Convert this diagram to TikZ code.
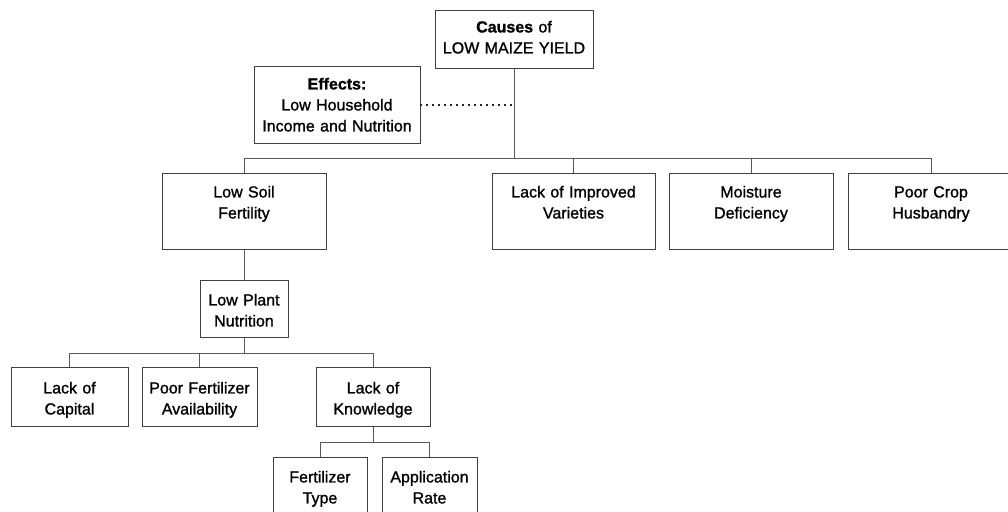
\documentclass[tikz,border=0pt]{standalone}
\usepackage{fontspec}
\setmainfont{Liberation Sans}[FakeBold=1.2]
\usepackage{tikz}

\tikzset{
    box/.style={draw=black!75, line width=0.9pt, align=center, anchor=north, inner sep=0pt, text height=23pt, font=\fontsize{16}{21}\selectfont},
    link/.style={draw=black!65, line width=0.9pt}
}

\begin{document}
\begin{tikzpicture}[x=1pt, y=-1pt]
        \useasboundingbox (0,0) rectangle (1008,511);
        \clip (0,0) rectangle (1008,511);

        \node[box, text width=158pt, text height=22pt, text depth=36pt] (causes) at (514,10) {\textbf{Causes} of\\LOW MAIZE YIELD};
        \node[box, text width=166pt, text depth=54pt] (effects) at (337,66) {\textbf{Effects:}\\Low Household\\Income and Nutrition};

        \node[box, text width=164pt, text height=24pt, text depth=52pt] (soil) at (244,173) {Low Soil\\Fertility};
        \node[box, text width=163pt, text height=24pt, text depth=52pt] (improved) at (573.5,173) {Lack of Improved\\Varieties};
        \node[box, text width=164pt, text height=24pt, text depth=52pt] (moisture) at (751,173) {Moisture\\Deficiency};
        \node[box, text width=166pt, text height=24pt, text depth=52pt] (husbandry) at (931,173) {Poor Crop\\Husbandry};

        \node[box, text width=88pt, text height=25pt, text depth=32pt] (plant) at (244,280) {Low Plant\\Nutrition};

        \node[box, text width=117pt, text height=26pt, text depth=33pt] (capital) at (69.5,367) {Lack of\\Capital};
        \node[box, text width=115pt, text height=26pt, text depth=33pt] (availability) at (199.5,367) {Poor Fertilizer\\Availability};
        \node[box, text width=114pt, text height=26pt, text depth=33pt] (knowledge) at (373,367) {Lack of\\Knowledge};

        \node[box, text width=94pt, text height=25pt, text depth=55pt] (ftype) at (320,457) {Fertilizer\\Type};
        \node[box, text width=95pt, text height=25pt, text depth=55pt] (apprate) at (429.5,457) {Application\\Rate};

        \coordinate (bus1) at (514,158);
        \coordinate (bus2) at (244,353);
        \coordinate (bus3) at (373,442);

        \draw[link] (causes.south) -- (bus1);
        \draw[link, line width=1.6pt, draw=black!85, dash pattern=on 1.6pt off 4.4pt] (effects.east) -- (effects.east -| causes.south);
        \draw[link] (bus1) -| (soil.north);
        \draw[link] (bus1) -| (improved.north);
        \draw[link] (bus1) -| (moisture.north);
        \draw[link] (bus1) -| (husbandry.north);

        \draw[link] (soil.south) -- (plant.north);
        \draw[link] (plant.south) -- (bus2);
        \draw[link] (bus2) -| (capital.north);
        \draw[link] (bus2) -| (availability.north);
        \draw[link] (bus2) -| (knowledge.north);

        \draw[link] (knowledge.south) -- (bus3);
        \draw[link] (bus3) -| (ftype.north);
        \draw[link] (bus3) -| (apprate.north);
    \end{tikzpicture}
\end{document}
